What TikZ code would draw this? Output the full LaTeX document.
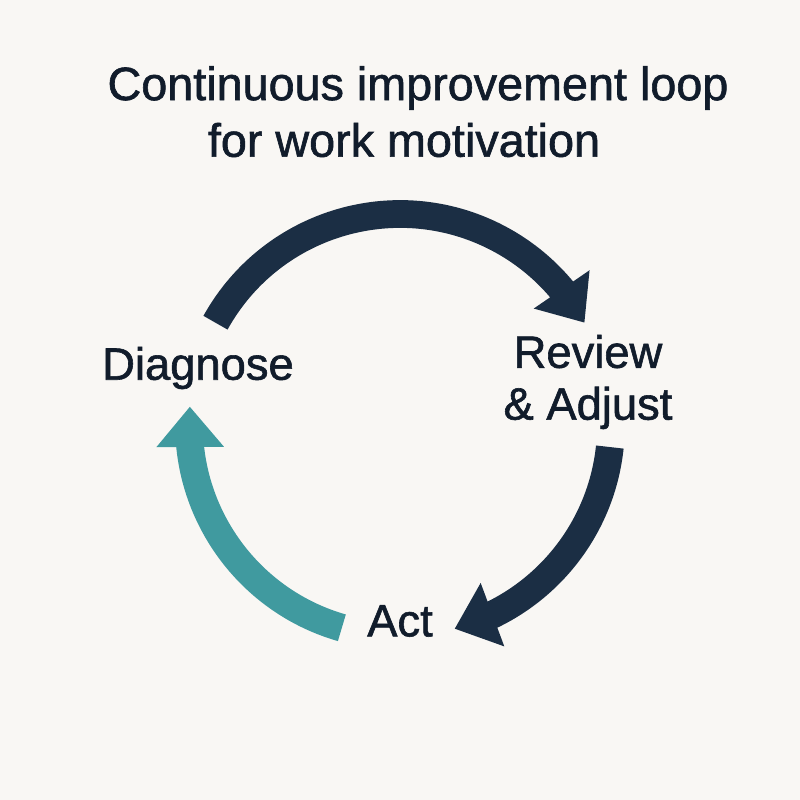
\documentclass[tikz,border=0pt]{standalone}
\usepackage{fontspec}
\setmainfont{Liberation Sans}[BoldFont=Liberation Sans, BoldFeatures={FakeBold=1.3}]
\usetikzlibrary{positioning, arrows.meta, bending}

\definecolor{bgcol}{HTML}{F9F7F4}
\definecolor{navy}{HTML}{1B2E44}
\definecolor{teal}{HTML}{409A9F}
\definecolor{ink}{HTML}{111C2B}

\begin{document}
\begin{tikzpicture}
    [
        x=0.02cm, y=0.02cm,
        title/.style={text=ink, font=\fontsize{26.6}{30}\selectfont\bfseries, inner sep=0pt},
        label/.style={text=ink, font=\fontsize{25.8}{29.5}\selectfont\bfseries, align=center, inner sep=0pt},
        loop/.style={line width=15.8pt, line cap=butt, navy,
            -{Triangle[length=23pt, width=37pt, flex]}},
        back/.style={loop, teal}
    ]
        % =========================================================================
        % CANVAS
        % =========================================================================
        \fill [bgcol] (0,0) rectangle (800,800);
        \useasboundingbox (0,0) rectangle (800,800);

        % =========================================================================
        % NODES
        % =========================================================================
        % --- Title ---
        \node [title] (title1) at (418,712) {Continuous improvement loop};
        \node [title] (title2) at (404,660) {for work motivation};
        % --- Stages ---
        \coordinate (hub) at (400,375);
        \node [label] (diagnose) at (198,432) {Diagnose};
        \node [label] (review) at (588,418) {Review\\\& Adjust};
        \node [label] (act) at (400,179) {Act};

        % =========================================================================
        % PATHS
        % =========================================================================
        % --- Diagnose to Review ---
        \draw [loop] ([shift={(151:4.22cm)}]hub) arc [start angle=151, end angle=29, radius=4.22cm];
        % --- Review to Act ---
        \draw [loop] ([shift={(-6:4.22cm)}]hub) arc [start angle=-6, end angle=-75, radius=4.22cm];
        % --- Act to Diagnose ---
        \draw [back] ([shift={(254:4.22cm)}]hub) arc [start angle=254, end angle=175, radius=4.22cm];

    \end{tikzpicture}
\end{document}
